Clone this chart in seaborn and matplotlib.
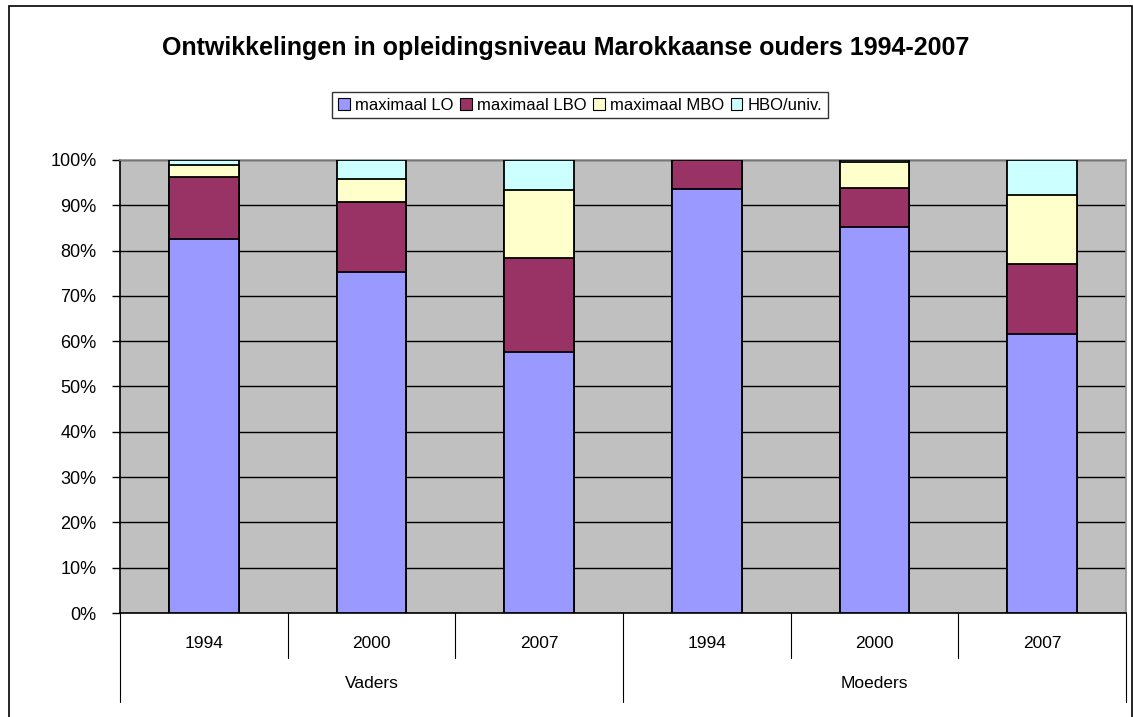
import pandas as pd
import numpy as np
import matplotlib
matplotlib.use('Agg')
import matplotlib.pyplot as plt
import matplotlib.transforms as mtransforms
from matplotlib.patches import Rectangle, Patch
import seaborn as sns

# ============================================================
# Data (percentages)
# ============================================================
groups = ['Vaders', 'Vaders', 'Vaders', 'Moeders', 'Moeders', 'Moeders']
years  = ['1994', '2000', '2007', '1994', '2000', '2007']

lo  = [82.6, 75.2, 57.6, 93.6, 85.1, 61.5]
lbo = [13.7, 15.6, 20.8,  6.4,  8.8, 15.5]
mbo = [ 2.6,  4.9, 14.9,  0.0,  5.6, 15.2]
hbo = [ 1.1,  4.3,  6.7,  0.0,  0.5,  7.8]

series = ['maximaal LO', 'maximaal LBO', 'maximaal MBO', 'HBO/univ.']
colors = ['#9999FF', '#993366', '#FFFFCC', '#CCFFFF']

title = 'Ontwikkelingen in opleidingsniveau Marokkaanse ouders 1994-2007'

# ============================================================
# Build the table
# ============================================================
df = pd.DataFrame({'group': groups, 'year': years,
                   'maximaal LO': lo, 'maximaal LBO': lbo,
                   'maximaal MBO': mbo, 'HBO/univ.': hbo})
df['cat'] = df['group'] + ' ' + df['year']
cum = df[series].cumsum(axis=1)

sns.set_theme(style='white')
plt.rcParams['font.family'] = ['Liberation Sans', 'DejaVu Sans']
plt.rcParams['text.color'] = 'black'
plt.rcParams['ytick.color'] = 'black'
plt.rcParams['ytick.labelcolor'] = 'black'

W, H = 1133, 717
fig = plt.figure(figsize=(W / 100, H / 100), dpi=100)
left, right, top, bottom = 120, 1126, 160, 613
ax = fig.add_axes([left / W, 1 - bottom / H, (right - left) / W, (bottom - top) / H])
ax.set_facecolor('#C0C0C0')

# stacked bars: draw cumulative totals from top series down
for s, c in reversed(list(zip(series, colors))):
    sns.barplot(x=df['cat'], y=cum[s], color=c, order=list(df['cat']), saturation=1,
                width=0.416, edgecolor='black', linewidth=1.3, ax=ax, zorder=3)

ax.set_ylim(0, 100)
ax.set_xlim(-0.5, 5.5)
ax.set_yticks(np.arange(0, 101, 10))
ax.set_yticklabels([f'{v}%' for v in range(0, 101, 10)], fontsize=13)
ax.yaxis.grid(True, color='black', linewidth=1, zorder=1)
ax.set_axisbelow(True)
ax.tick_params(axis='y', left=True, length=6, width=1, color='black', pad=11)
ax.set_xticks([])
ax.set_xlabel('')
ax.set_ylabel('')
for side in ['top', 'right']:
    ax.spines[side].set_color('#909090')
    ax.spines[side].set_linewidth(1.2)
for side in ['left', 'bottom']:
    ax.spines[side].set_color('black')
    ax.spines[side].set_linewidth(1.2)

# multi-level category axis
trans = mtransforms.blended_transform_factory(ax.transData, ax.transAxes)
ah = bottom - top
short_y = -(658 - bottom) / ah
long_y = -(702 - bottom) / ah
for i in range(7):
    xb = i - 0.5
    yb = long_y if i in (0, 3, 6) else short_y
    ax.plot([xb, xb], [0, yb], color='black', linewidth=0.8, transform=trans, clip_on=False)
for i, yr in enumerate(years):
    ax.text(i, -(643 - bottom) / ah, yr, transform=trans, ha='center', va='center', fontsize=12.5)
for name, xc in [('Vaders', 1), ('Moeders', 4)]:
    ax.text(xc, -(684 - bottom) / ah, name, transform=trans, ha='center', va='center', fontsize=12.5)

# title and legend
fig.text(566 / W, 1 - 48 / H, title, ha='center', va='center', fontsize=18, fontweight='bold')
handles = [Patch(facecolor=c, edgecolor='black', linewidth=0.8) for c in colors]
leg = fig.legend(handles, series, loc='center', bbox_to_anchor=(580 / W, 1 - 105 / H),
                 ncol=4, fontsize=12, frameon=True, fancybox=False, edgecolor='black',
                 handlelength=0.7, handleheight=0.7, handletextpad=0.3, columnspacing=0.4,
                 borderpad=0.35, borderaxespad=0)
leg.get_frame().set_linewidth(1)

# chart border
fig.patches.append(Rectangle((9 / W, -0.01), 1123 / W, 1.01 - 6 / H, transform=fig.transFigure,
                             fill=False, edgecolor='black', linewidth=1.2))

plt.savefig('out.png', dpi=100)
